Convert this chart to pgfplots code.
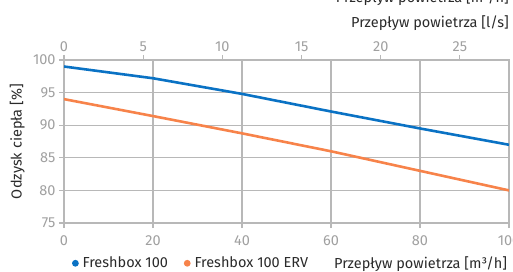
\documentclass[border=0pt]{standalone}
\usepackage{pgfplots}
\pgfplotsset{compat=1.18}
\usepackage{fontspec}
\setmainfont{Fira Sans}
\definecolor{cblue}{HTML}{0A72C4}
\definecolor{corange}{HTML}{F7834A}
\definecolor{gridc}{HTML}{B8B8B8}
\definecolor{tickc}{HTML}{A0A0A0}
\definecolor{textc}{HTML}{2A2A2A}
\begin{document}
\begin{tikzpicture}[x=1pt,y=1pt]
\useasboundingbox (0,0) rectangle (513,271);
\begin{axis}[
  at={(64pt,48pt)}, anchor=south west,
  scale only axis, width=445pt, height=163pt,
  xmin=0, xmax=100, ymin=75, ymax=100,
  xtick={0,20,...,100}, ytick={75,80,...,100},
  grid=major, major grid style={gridc, line width=1.1pt},
  axis line style={gridc, line width=1.1pt},
  tick style={gridc, line width=1.1pt},
  tick align=outside, tick pos=left, major tick length=5pt,
  ticklabel style={tickc, font=\fontsize{14.5}{15}\selectfont},
  xticklabel style={yshift=-4pt},
  /pgf/number format/assume math mode=true,
  ylabel={Odzysk ciepła [\%]},
  ylabel style={at={(axis description cs:-0.105,0.5)}, anchor=center, text=textc, font=\fontsize{14.5}{15}\selectfont},
  legend columns=3,
  legend style={at={(1,-0.247)}, anchor=east, draw=none, fill=none, inner sep=0pt, outer sep=0pt,
    font=\fontsize{14.5}{15}\selectfont, text=textc,
    /tikz/every even column/.append style={column sep=14pt},
    /tikz/every odd column/.append style={column sep=2pt}},
  legend cell align=left,
]
\addplot[cblue, line width=2.6pt, legend image code/.code={\fill[cblue] (0.25em,0pt) circle (2pt);}]
  coordinates {(0,99) (20,97.2) (40,94.8) (60,92.1) (80,89.5) (100,87)};
\addlegendentry{Freshbox 100}
\addplot[corange, line width=2.6pt, legend image code/.code={\fill[corange] (0.25em,0pt) circle (2pt);}]
  coordinates {(0,94) (20,91.4) (40,88.75) (60,86) (80,83) (100,80)};
\addlegendentry{Freshbox 100 ERV}
\addlegendimage{empty legend}
\addlegendentry{\hspace*{6pt}Przepływ powietrza [m³/h]}
\end{axis}
\begin{axis}[
  at={(64pt,48pt)}, anchor=south west,
  scale only axis, width=445pt, height=163pt,
  xmin=0, xmax=28.1, ymin=75, ymax=100,
  axis x line*=top, axis y line=none,
  xtick={0,5,...,25},
  axis line style={gridc, line width=1.1pt},
  tick style={gridc, line width=1.1pt},
  tick align=outside, major tick length=5pt,
  ticklabel style={tickc, font=\fontsize{14.5}{15}\selectfont},
  /pgf/number format/assume math mode=true,
]
\end{axis}
\node[anchor=base east, text=textc, font=\fontsize{14.5}{15}\selectfont, inner sep=0pt] at (509,243) {Przepływ powietrza [l/s]};
\node[anchor=base east, text=textc, font=\fontsize{14.5}{15}\selectfont, inner sep=0pt] at (509,268) {Przepływ powietrza [m³/h]};
\end{tikzpicture}
\end{document}
